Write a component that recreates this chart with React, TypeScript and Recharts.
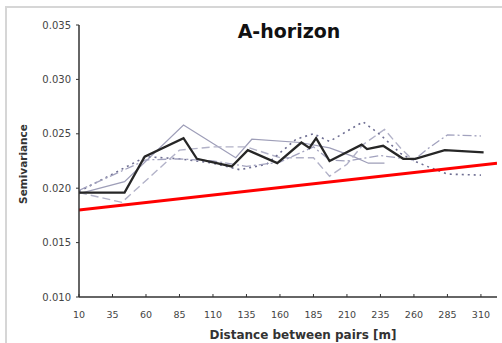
import { CartesianGrid, Line, LineChart, XAxis, YAxis } from "recharts";

// distances [m] and semivariance values
const meanSeries = [
    { d: 10, v: 0.0196 }, { d: 44, v: 0.0196 }, { d: 59, v: 0.0229 }, { d: 88, v: 0.0246 },
    { d: 98, v: 0.0227 }, { d: 124, v: 0.022 }, { d: 136, v: 0.0235 }, { d: 158, v: 0.0223 },
    { d: 176, v: 0.0242 }, { d: 182, v: 0.0237 }, { d: 187, v: 0.0246 }, { d: 197, v: 0.0225 },
    { d: 221, v: 0.024 }, { d: 225, v: 0.0236 }, { d: 237, v: 0.0239 }, { d: 252, v: 0.0227 },
    { d: 261, v: 0.0227 }, { d: 283, v: 0.0235 }, { d: 312, v: 0.0233 },
];
const solidSeries = [
    { d: 10, v: 0.0195 }, { d: 44, v: 0.0206 }, { d: 88, v: 0.0258 }, { d: 127, v: 0.0228 },
    { d: 139, v: 0.0245 }, { d: 175, v: 0.0242 }, { d: 197, v: 0.0237 }, { d: 215, v: 0.0229 },
    { d: 226, v: 0.0223 }, { d: 238, v: 0.0223 },
];
const dashedSeries = [
    { d: 10, v: 0.0196 }, { d: 42, v: 0.0187 }, { d: 85, v: 0.0235 }, { d: 110, v: 0.0238 },
    { d: 135, v: 0.0238 }, { d: 160, v: 0.0228 }, { d: 185, v: 0.0228 }, { d: 197, v: 0.0211 },
    { d: 210, v: 0.0222 }, { d: 222, v: 0.024 }, { d: 238, v: 0.0254 }, { d: 250, v: 0.0237 },
    { d: 260, v: 0.0225 },
];
const dottedSeries = [
    { d: 10, v: 0.0197 }, { d: 60, v: 0.0229 }, { d: 85, v: 0.0227 }, { d: 110, v: 0.0223 },
    { d: 130, v: 0.0217 }, { d: 150, v: 0.0222 }, { d: 172, v: 0.0245 }, { d: 185, v: 0.025 },
    { d: 197, v: 0.0243 }, { d: 222, v: 0.0261 }, { d: 235, v: 0.0249 }, { d: 250, v: 0.0232 },
    { d: 262, v: 0.0224 }, { d: 272, v: 0.0219 }, { d: 285, v: 0.0213 }, { d: 310, v: 0.0212 },
];
const dashDotSeries = [
    { d: 10, v: 0.0198 }, { d: 60, v: 0.0226 }, { d: 85, v: 0.0227 }, { d: 110, v: 0.0225 },
    { d: 135, v: 0.022 }, { d: 160, v: 0.0224 }, { d: 185, v: 0.0238 }, { d: 197, v: 0.0226 },
    { d: 210, v: 0.0225 }, { d: 235, v: 0.023 }, { d: 260, v: 0.0226 }, { d: 270, v: 0.0236 },
    { d: 285, v: 0.0249 }, { d: 310, v: 0.0248 },
];
const redLine = [
    { d: 10, v: 0.018 },
    { d: 322, v: 0.0223 },
];

const xTicks = [10, 35, 60, 85, 110, 135, 160, 185, 210, 235, 260, 285, 310];
const yTicks = [0.01, 0.015, 0.02, 0.025, 0.03, 0.035];

const FONT = "DejaVu Sans";

const XTick = ({ x, y, payload }: any) => (
    <g>
        <line x1={x} x2={x} y1={y - 3} y2={y} stroke="#333" strokeWidth={1} />
        <text x={x} y={y + 21} textAnchor="middle" fontSize={9.5} fill="#444" fontFamily={FONT}>
            {payload.value}
        </text>
    </g>
);

export default function App() {
    return (
        <div style={{ position: "absolute", left: 0, top: 0, width: 502, height: 343, background: "#fff", overflow: "hidden" }}>
            <div
                style={{
                    position: "absolute", left: 5, top: 6, width: 510, height: 350,
                    borderTop: "2px solid #d6d6d6", borderLeft: "2px solid #d6d6d6",
                }}
            />
            <LineChart width={502} height={343} margin={{ top: 25, right: 5, bottom: 0, left: 0 }} style={{ position: "absolute", left: 0, top: 0 }}>
                <XAxis
                    type="number"
                    dataKey="d"
                    domain={[10, 322]}
                    ticks={xTicks}
                    allowDataOverflow
                    height={46}
                    tickSize={0}
                    tickMargin={0}
                    tick={<XTick />}
                    axisLine={{ stroke: "#333", strokeWidth: 1.5 }}
                    label={{
                        content: () => (
                            <text x={303} y={339} textAnchor="middle" fontSize={12} fontWeight="bold" fill="#333" fontFamily={FONT}>
                                Distance between pairs [m]
                            </text>
                        ),
                    }}
                />
                <YAxis
                    type="number"
                    domain={[0.01, 0.035]}
                    ticks={yTicks}
                    width={79}
                    tickSize={3}
                    tickMargin={5}
                    tickFormatter={(v: number) => v.toFixed(3)}
                    tick={{ fontSize: 10, fill: "#444", fontFamily: FONT }}
                    tickLine={{ stroke: "#333" }}
                    axisLine={{ stroke: "#333", strokeWidth: 1.5 }}
                    label={{
                        content: () => (
                            <text
                                x={23}
                                y={164}
                                transform="rotate(-90 23 164)"
                                textAnchor="middle"
                                dominantBaseline="central"
                                fontSize={10.5}
                                fontWeight="bold"
                                fill="#333"
                                fontFamily={FONT}
                            >
                                Semivariance
                            </text>
                        ),
                    }}
                />
                <Line data={solidSeries} dataKey="v" stroke="#9e9eb8" strokeWidth={1.2} dot={false} isAnimationActive={false} />
                <Line data={dashedSeries} dataKey="v" stroke="#b2b2c8" strokeWidth={1.4} strokeDasharray="8 4" dot={false} isAnimationActive={false} />
                <Line data={dottedSeries} dataKey="v" stroke="#6e6e92" strokeWidth={1.6} strokeDasharray="2 4" dot={false} isAnimationActive={false} />
                <Line data={dashDotSeries} dataKey="v" stroke="#a2a2be" strokeWidth={1.3} strokeDasharray="9 3 2 3" dot={false} isAnimationActive={false} />
                <Line data={meanSeries} dataKey="v" stroke="#262626" strokeWidth={2.3} dot={false} isAnimationActive={false} />
                <Line data={redLine} dataKey="v" stroke="#ff0000" strokeWidth={3} dot={false} isAnimationActive={false} />
            </LineChart>
            <div
                style={{
                    position: "absolute", left: 189, top: 22, width: 200, textAlign: "center",
                    fontFamily: FONT, fontWeight: "bold", fontSize: 19, lineHeight: "19px", color: "#111",
                }}
            >
                A-horizon
            </div>
        </div>
    );
}
